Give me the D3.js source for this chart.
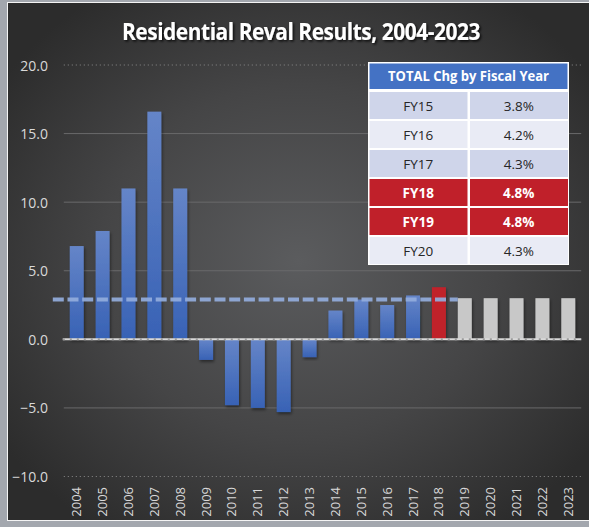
<!DOCTYPE html>
<html><head><meta charset="utf-8">
<script src="https://cdn.jsdelivr.net/npm/d3@7"></script>
<style>html,body{margin:0;padding:0;background:#2e2e2e;overflow:hidden}</style>
</head><body>
<svg id="c" width="589" height="527"></svg>
<script>
const years = ["2004","2005","2006","2007","2008","2009","2010","2011","2012","2013","2014","2015","2016","2017","2018","2019","2020","2021","2022","2023"];
const values = [6.8,7.9,11.0,16.6,11.0,-1.5,-4.8,-5.0,-5.3,-1.3,2.1,2.9,2.5,3.2,3.8,3.0,3.0,3.0,3.0,3.0];
const barKind = ["actual","actual","actual","actual","actual","actual","actual","actual","actual","actual","actual","actual","actual","actual","current","projected","projected","projected","projected","projected"];
const averageValue = 2.9;
const averageSpan = ["2004","2018"];
const yTicks = [-10,-5,0,5,10,15,20];
const tableHeader = "TOTAL Chg by Fiscal Year";
const fiscalYears = ["FY15","FY16","FY17","FY18","FY19","FY20"];
const fiscalChanges = ["3.8%","4.2%","4.3%","4.8%","4.8%","4.3%"];
const fiscalHighlight = [false,false,false,true,true,false];
const title = "Residential Reval Results, 2004-2023";

const svg = d3.select("#c");
const W = 589, H = 527;
const defs = svg.append("defs");
const bg = defs.append("radialGradient").attr("id","bg").attr("cx","0.5").attr("cy","0.5").attr("r","0.62");
bg.append("stop").attr("offset","0").attr("stop-color","#5b5c5e");
bg.append("stop").attr("offset","0.55").attr("stop-color","#454546");
bg.append("stop").attr("offset","1").attr("stop-color","#2c2c2c");
const bb = defs.append("linearGradient").attr("id","blue").attr("x1",0).attr("y1",0).attr("x2",0).attr("y2",1);
bb.append("stop").attr("offset","0").attr("stop-color","#6585c8");
bb.append("stop").attr("offset","1").attr("stop-color","#3862b5");
const sh = defs.append("filter").attr("id","tshadow").attr("x","-10%").attr("y","-30%").attr("width","120%").attr("height","160%");
sh.append("feDropShadow").attr("dx",1.5).attr("dy",1.5).attr("stdDeviation",1.2).attr("flood-color","#000").attr("flood-opacity",0.8);
const bs = defs.append("filter").attr("id","bshadow").attr("x","-30%").attr("y","-10%").attr("width","160%").attr("height","130%");
bs.append("feDropShadow").attr("dx",1).attr("dy",2).attr("stdDeviation",1.5).attr("flood-color","#000").attr("flood-opacity",0.45);

// frame
svg.append("rect").attr("x",0).attr("y",0).attr("width",W).attr("height",H).attr("fill","#a3a7ae");
svg.append("rect").attr("x",7).attr("y",2).attr("width",W-7).attr("height",H-8).attr("fill","#f4f4f4");
svg.append("rect").attr("x",8).attr("y",3).attr("width",W-8).attr("height",H-10).attr("fill","url(#bg)");

const x = d3.scaleBand().domain(years).range([63.8,581.2]).paddingInner(0.46).paddingOuter(0.23);
const y = d3.scaleLinear().domain([-10,20]).range([476.5,65]);

// gridlines
const grid = svg.append("g");
yTicks.forEach(t=>{
  if (t===0) return;
  const edge = (t===20||t===-10);
  grid.append("line").attr("x1",x.range()[0]).attr("x2",x.range()[1])
    .attr("y1",y(t)).attr("y2",y(t))
    .attr("stroke", edge ? "#8a8a8a" : "#6a6a6b")
    .attr("stroke-width", 1)
    .attr("stroke-dasharray", edge ? "1,3" : null);
});

// y axis labels
const yAxis = d3.axisLeft(y).tickValues(yTicks).tickFormat(d3.format(".1f")).tickSize(0).tickPadding(0);
const ya = svg.append("g").attr("transform","translate(48,0)").call(yAxis);
ya.select(".domain").remove();
ya.selectAll("text").attr("fill","#d9d9d9").attr("font-family","Open Sans").attr("font-size",14).attr("dy","0.36em");

// bars
const colorFor = k => k==="actual" ? "url(#blue)" : (k==="current" ? "#c0222b" : "#c8c8c8");
svg.append("g").selectAll("rect").data(years).join("rect")
  .attr("x", d=>x(d)).attr("width", x.bandwidth())
  .attr("y", (d,i)=>y(Math.max(0,values[i])))
  .attr("height", (d,i)=>Math.abs(y(values[i])-y(0)))
  .attr("fill", (d,i)=>colorFor(barKind[i]))
  .attr("filter","url(#bshadow)");

// zero line
svg.append("line").attr("x1",x.range()[0]-1).attr("x2",x.range()[1])
  .attr("y1",y(0)).attr("y2",y(0)).attr("stroke","#d8d8d8").attr("stroke-width",2);
svg.append("line").attr("x1",x.range()[0]-1).attr("x2",x.range()[1])
  .attr("y1",y(0)).attr("y2",y(0)).attr("stroke","#9a9a9a").attr("stroke-width",2).attr("stroke-dasharray","2,5");

// average dashed line
svg.append("line")
  .attr("x1", x(averageSpan[0]) - x.step()*0.23 - 11)
  .attr("x2", x(averageSpan[1]) + x.step())
  .attr("y1", y(averageValue)).attr("y2", y(averageValue))
  .attr("stroke","#93acdc").attr("stroke-opacity",0.92).attr("stroke-width",4)
  .attr("stroke-dasharray","11,3.7");

// x labels
const xa = svg.append("g");
years.forEach(d=>{
  xa.append("text").attr("transform",`translate(${x(d)+x.bandwidth()/2+4.5},487) rotate(-90)`)
    .attr("text-anchor","end").attr("fill","#d9d9d9").attr("font-family","Open Sans").attr("font-size",13).text(d);
});

// title
svg.append("text").attr("x",301).attr("y",40).attr("text-anchor","middle")
  .attr("fill","#ffffff").attr("font-family","Open Sans").attr("font-weight","bold").attr("font-size",23)
  .attr("textLength",358).attr("lengthAdjust","spacingAndGlyphs").attr("letter-spacing","-0.5")
  .attr("filter","url(#tshadow)").text(title);

// table
const tx = 368, tw = 201, tyTop = 62, hh = 28, rh = 29, colW = 100.5;
const tg = svg.append("g");
tg.append("rect").attr("x",tx).attr("y",tyTop).attr("width",tw).attr("height",hh+rh*fiscalYears.length+1).attr("fill","#ffffff");
tg.append("rect").attr("x",tx+1.5).attr("y",tyTop+1.5).attr("width",tw-3).attr("height",hh-2.5).attr("fill","#4472c4");
tg.append("text").attr("x",tx+tw/2).attr("y",tyTop+hh/2+5).attr("text-anchor","middle")
  .attr("fill","#fff").attr("font-family","Open Sans").attr("font-weight","bold").attr("font-size",13.5)
  .attr("textLength",161).attr("lengthAdjust","spacingAndGlyphs").text(tableHeader);
fiscalYears.forEach((fy,i)=>{
  const ry = tyTop+hh+1+i*rh;
  const fill = fiscalHighlight[i] ? "#c0202a" : (i%2===0 ? "#cfd5ea" : "#e9ebf5");
  const tc = fiscalHighlight[i] ? "#ffffff" : "#262626";
  const fw = fiscalHighlight[i] ? "bold" : "normal";
  [0,1].forEach(c=>{
    tg.append("rect").attr("x",tx+1.5+c*colW).attr("y",ry+1).attr("width",colW-2.5).attr("height",rh-2).attr("fill",fill);
    tg.append("text").attr("x",tx+c*colW+colW/2).attr("y",ry+rh/2+5).attr("text-anchor","middle")
      .attr("fill",tc).attr("font-family","Open Sans").attr("font-weight",fw).attr("font-size",13.5)
      .text(c===0 ? fy : fiscalChanges[i]);
  });
});
</script>
</body></html>
